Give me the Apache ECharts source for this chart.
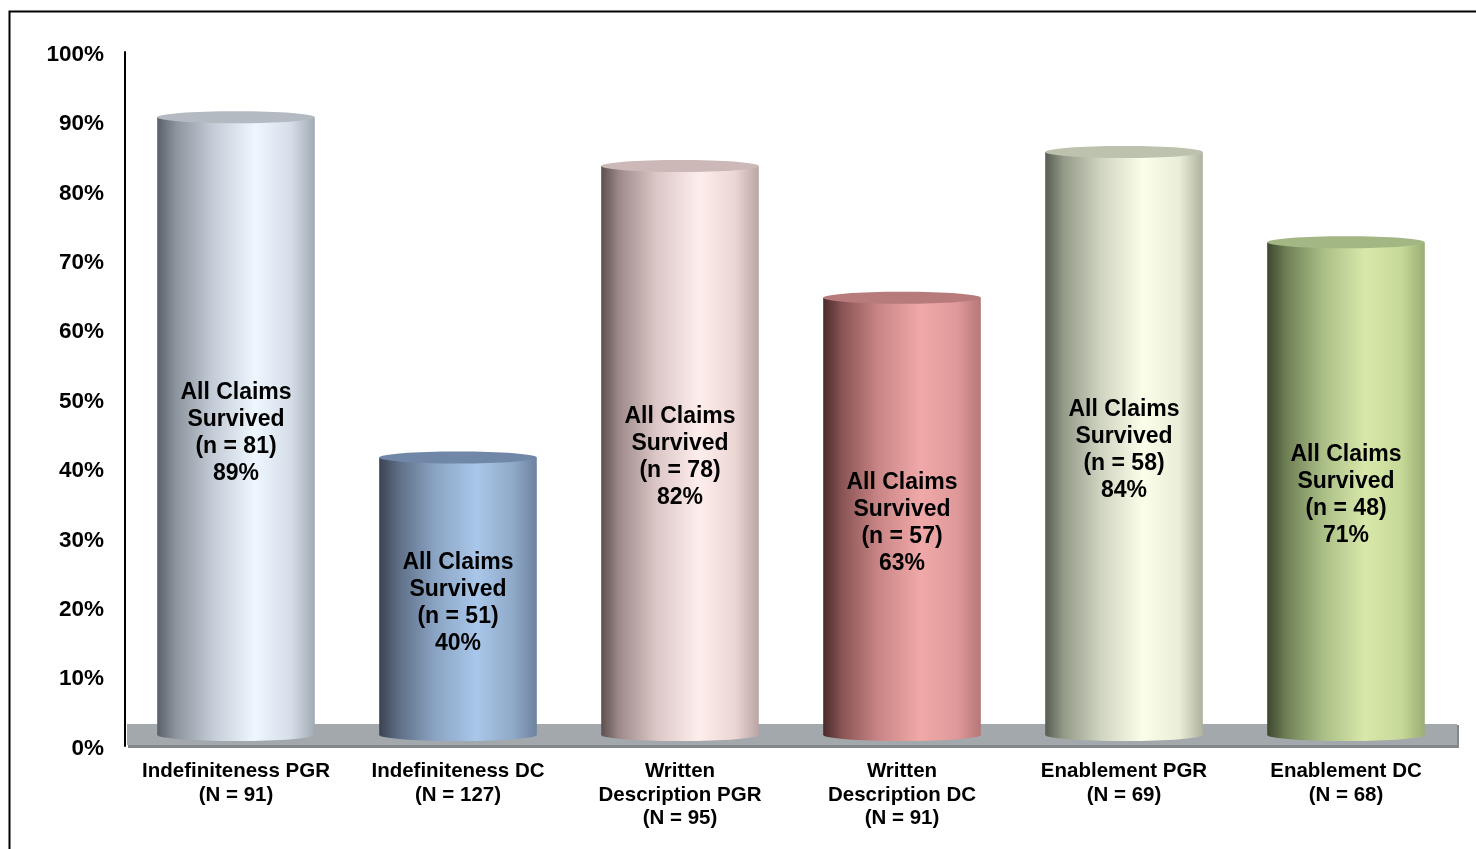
<!DOCTYPE html>
<html>
<head>
<meta charset="utf-8">
<title>All Claims Survived</title>
<script src="https://cdn.jsdelivr.net/npm/echarts@6/dist/echarts.min.js"></script>
<style>
  html, body { margin: 0; padding: 0; background: #fff; }
  #chart { width: 1476px; height: 849px; }
</style>
</head>
<body>
<div id="chart"></div>
<script>
// Categories shown under each cylinder
const categories = [
  'Indefiniteness PGR\n(N = 91)',
  'Indefiniteness DC\n(N = 127)',
  'Written\nDescription PGR\n(N = 95)',
  'Written\nDescription DC\n(N = 91)',
  'Enablement PGR\n(N = 69)',
  'Enablement DC\n(N = 68)'
];
// Share of cases where all claims survived (%)
const survivedPct = [89, 40, 82, 63, 84, 71];
// Number of cases where all claims survived
const survivedCount = [81, 51, 78, 57, 58, 48];
// Y axis tick range
const yTicks = { min: 0, max: 100, interval: 10 };

// Cylinder shading: side gradient (left to right) and top cap colour
const palettes = [
  { side: ['#5a6068', '#8c949d', '#c3ccd6', '#eef7fe', '#d5dee8', '#a1a9b2'], top: '#b3bac2' },
  { side: ['#3a4352', '#5d6d85', '#8aa3c2', '#a9c7ea', '#8fa9c8', '#6d839f'], top: '#7087a7' },
  { side: ['#5e5050', '#a08c8c', '#dcc6c6', '#fdeeec', '#ecd6d4', '#b9a5a4'], top: '#cdb8b8' },
  { side: ['#4a2a2a', '#8a5454', '#c98585', '#f0a9a8', '#e0999a', '#b57777'], top: '#b87b7b' },
  { side: ['#575d52', '#959b89', '#cfd4c0', '#fbfee9', '#eaeed8', '#adb29e'], top: '#bcc2ae' },
  { side: ['#3d472f', '#6e7f55', '#a9bd85', '#d8e8aa', '#c6d998', '#9aae74'], top: '#a2b784' }
];
const stopPos = [0, 0.12, 0.35, 0.62, 0.85, 1];

const FONT = 'Liberation Sans, Arial, sans-serif';

function sideGradient(colors) {
  return {
    type: 'linear', x: 0, y: 0, x2: 1, y2: 0,
    colorStops: colors.map((c, i) => ({ offset: stopPos[i], color: c }))
  };
}

// Grey floor slab along the category axis
function renderFloor(params, api) {
  const cs = params.coordSys;
  const yBase = cs.y + cs.height;
  return {
    type: 'group',
    children: [
      { type: 'rect', shape: { x: cs.x + 3, y: yBase - 21, width: cs.width - 1, height: 23 }, style: { fill: '#83878b' } },
      { type: 'rect', shape: { x: cs.x + 2, y: yBase - 22, width: cs.width - 2, height: 21 }, style: { fill: '#a3a8ac' } }
    ]
  };
}

// One shaded cylinder per category, with its label in the middle
function renderCylinder(params, api) {
  const idx = params.dataIndex;
  const v = api.value(1);
  const topPt = api.coord([idx, v]);
  const basePt = api.coord([idx, 0]);
  const bandW = api.size([1, 0])[0];
  const w = bandW * 0.71;
  const rx = w / 2, ry = 6, lift = 11;
  const cx = topPt[0];
  const yTop = topPt[1] - lift;
  const yBot = basePt[1] - lift;
  const pal = palettes[idx];
  const grad = sideGradient(pal.side);
  return {
    type: 'group',
    children: [
      { type: 'ellipse', shape: { cx: cx, cy: yBot, rx: rx, ry: ry }, style: { fill: grad } },
      { type: 'rect', shape: { x: cx - rx, y: yTop, width: w, height: yBot - yTop }, style: { fill: grad } },
      { type: 'ellipse', shape: { cx: cx, cy: yTop, rx: rx, ry: ry }, style: { fill: pal.top } },
      {
        type: 'text',
        x: cx,
        y: (yTop + yBot) / 2 + 7,
        style: {
          text: 'All Claims\nSurvived\n(n = ' + survivedCount[idx] + ')\n' + v + '%',
          fill: '#000',
          font: 'bold 23px ' + FONT,
          lineHeight: 27,
          align: 'center',
          verticalAlign: 'middle',
          textAlign: 'center',
          textVerticalAlign: 'middle'
        }
      }
    ]
  };
}

const chart = echarts.init(document.getElementById('chart'), null, { renderer: 'canvas' });
chart.setOption({
  animation: false,
  backgroundColor: '#fff',
  grid: { left: 125, right: 19, top: 52, bottom: 103, containLabel: false },
  graphic: [
    {
      type: 'rect',
      left: 7, top: 9,
      shape: { width: 1500, height: 900 },
      style: { fill: 'none', stroke: '#000', lineWidth: 2 },
      z: 100
    }
  ],
  xAxis: {
    type: 'category',
    data: categories,
    axisLine: { show: false },
    axisTick: { show: false },
    splitLine: { show: false },
    axisLabel: {
      interval: 0,
      margin: 14,
      color: '#000',
      fontFamily: FONT,
      fontWeight: 'bold',
      fontSize: 20.5,
      lineHeight: 23.5,
      align: 'center'
    }
  },
  yAxis: {
    type: 'value',
    min: yTicks.min,
    max: yTicks.max,
    interval: yTicks.interval,
    axisLine: { show: true, lineStyle: { color: '#000', width: 2 } },
    axisTick: { show: false },
    splitLine: { show: false },
    axisLabel: {
      formatter: '{t|{value}%}',
      margin: 21,
      rich: {
        t: {
          color: '#000',
          fontFamily: FONT,
          fontWeight: 'bold',
          fontSize: 22.5,
          padding: [5, 0, 0, 0]
        }
      }
    }
  },
  series: [
    {
      type: 'custom',
      name: 'floor',
      renderItem: renderFloor,
      data: [[0, 0]],
      z: 1,
      silent: true
    },
    {
      type: 'custom',
      name: 'All Claims Survived',
      renderItem: renderCylinder,
      encode: { x: 0, y: 1 },
      data: survivedPct.map((v, i) => [i, v]),
      z: 2
    }
  ]
});
</script>
</body>
</html>
